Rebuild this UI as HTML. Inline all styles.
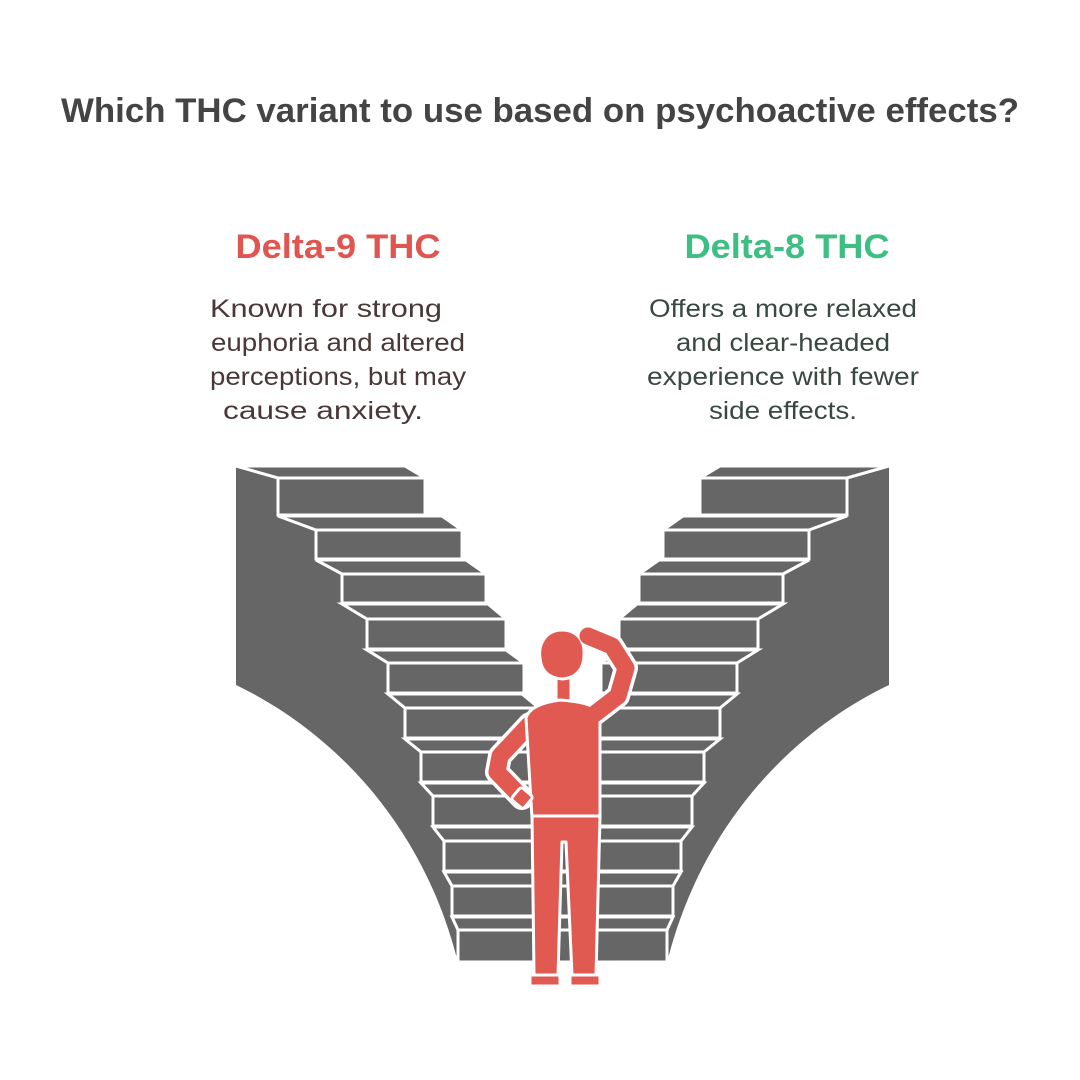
<!DOCTYPE html>
<html><head><meta charset="utf-8"><style>
html,body{margin:0;padding:0;background:#fff;}
svg{display:block;}
</style></head><body>
<svg width="1080" height="1080" viewBox="0 0 1080 1080" xmlns="http://www.w3.org/2000/svg" font-family="Liberation Sans, sans-serif">
<rect width="1080" height="1080" fill="#fff"/>
<text x="540" y="122" text-anchor="middle" font-size="34" font-weight="bold" fill="#444" textLength="958" lengthAdjust="spacingAndGlyphs">Which THC variant to use based on psychoactive effects?</text>
<text x="338" y="258" text-anchor="middle" font-size="34" font-weight="bold" fill="#E0554F" textLength="205" lengthAdjust="spacingAndGlyphs">Delta-9 THC</text>
<text x="787" y="258" text-anchor="middle" font-size="34" font-weight="bold" fill="#3DBE82" textLength="205" lengthAdjust="spacingAndGlyphs">Delta-8 THC</text>
<g font-size="25" fill="#4a3838" text-anchor="middle">
<text x="326" y="317" textLength="232" lengthAdjust="spacingAndGlyphs">Known for strong</text>
<text x="338" y="351" textLength="254" lengthAdjust="spacingAndGlyphs">euphoria and altered</text>
<text x="338" y="385" textLength="256" lengthAdjust="spacingAndGlyphs">perceptions, but may</text>
<text x="323" y="419" textLength="200" lengthAdjust="spacingAndGlyphs">cause anxiety.</text>
</g>
<g font-size="25" fill="#394840" text-anchor="middle">
<text x="783" y="317" textLength="268" lengthAdjust="spacingAndGlyphs">Offers a more relaxed</text>
<text x="783" y="351" textLength="214" lengthAdjust="spacingAndGlyphs">and clear-headed</text>
<text x="783" y="385" textLength="272" lengthAdjust="spacingAndGlyphs">experience with fewer</text>
<text x="783" y="419" textLength="148" lengthAdjust="spacingAndGlyphs">side effects.</text>
</g>

<defs>
<g id="half" stroke="#fff" stroke-width="3" stroke-linejoin="miter">
<path fill="#666" stroke="none" d="M236,466 L278,478 L278,515 L316,530 L316,559 L342,574 L342,603 L367,619 L367,649 L388,663 L388,693 L405,708 L405,738 L421,752 L421,782 L433,796 L433,826 L444,841 L444,871 L452,886 L452,916 L458,930 L458,962 L460,962 L456,955 C420,820 330,730 236,685 Z"/>
<polygon fill="#666" points="236,466 405,466 425,478 278,478"/>
<rect fill="#666" x="278" y="478" width="147" height="37"/>
<polygon fill="#666" points="278,516 442,516 462,530 316,530"/>
<rect fill="#666" x="316" y="530" width="146" height="29"/>
<polygon fill="#666" points="316,560 466,560 486,574 342,574"/>
<rect fill="#666" x="342" y="574" width="144" height="29"/>
<polygon fill="#666" points="342,604 488,604 506,619 367,619"/>
<rect fill="#666" x="367" y="619" width="139" height="30"/>
<polygon fill="#666" points="367,650 506,650 524,663 388,663"/>
<rect fill="#666" x="388" y="663" width="136" height="30"/>
<polygon fill="#666" points="388,694 522,694 539,708 405,708"/>
<rect fill="#666" x="405" y="708" width="134" height="30"/>
</g>
</defs>
<use href="#half"/>
<use href="#half" transform="translate(1125,0) scale(-1,1)"/>
<g stroke="#fff" stroke-width="3" fill="#666">
<polygon points="405,739 720,739 704,752 421,752"/>
<rect x="421" y="752" width="283" height="30"/>
<polygon points="421,783 704,783 692,796 433,796"/>
<rect x="433" y="796" width="259" height="30"/>
<polygon points="433,827 692,827 681,841 444,841"/>
<rect x="444" y="841" width="237" height="30"/>
<polygon points="444,872 681,872 673,886 452,886"/>
<rect x="452" y="886" width="221" height="30"/>
<polygon points="452,917 673,917 667,930 458,930"/>
<rect x="458" y="930" width="209" height="32"/>
</g>

<!-- figure -->
<g fill="none" stroke-linecap="round" stroke-linejoin="round">
<path d="M530,724 L500,756 L497,772 L522,798" stroke="#fff" stroke-width="24"/>
<path d="M530,724 L500,756 L497,772 L522,798" stroke="#E15A52" stroke-width="17"/>
<path d="M592,716 L618,696 L626,668 L612,646 L588,636" stroke="#fff" stroke-width="24"/>
</g>
<g fill="#E15A52" stroke="#fff" stroke-width="3" stroke-linejoin="round">
<rect x="556" y="678" width="15" height="24"/>
<path d="M526,718 Q530,704 560,700 Q592,702 600,712 L600,818 L532,818 Z"/>
<path d="M532,816 L600,816 L596,975 L572,975 L566,842 L562,842 L558,975 L534,975 Z"/>
<path d="M530,975 L560,975 L560,986 L530,986 Z"/>
<path d="M570,975 L600,975 L600,986 L570,986 Z"/>
<path d="M562,630 C545,630 538,645 540,658 C541,670 548,678 562,679 C577,678 584,668 584,655 C585,642 578,630 562,630 Z"/>
<rect x="514" y="790" width="16" height="16" rx="3" transform="rotate(40 522 798)"/>
</g>
<g fill="none" stroke-linecap="round" stroke-linejoin="round">
<path d="M592,716 L618,696 L626,668 L612,646 L588,636" stroke="#E15A52" stroke-width="17"/>
</g>
</svg>
</body></html>
